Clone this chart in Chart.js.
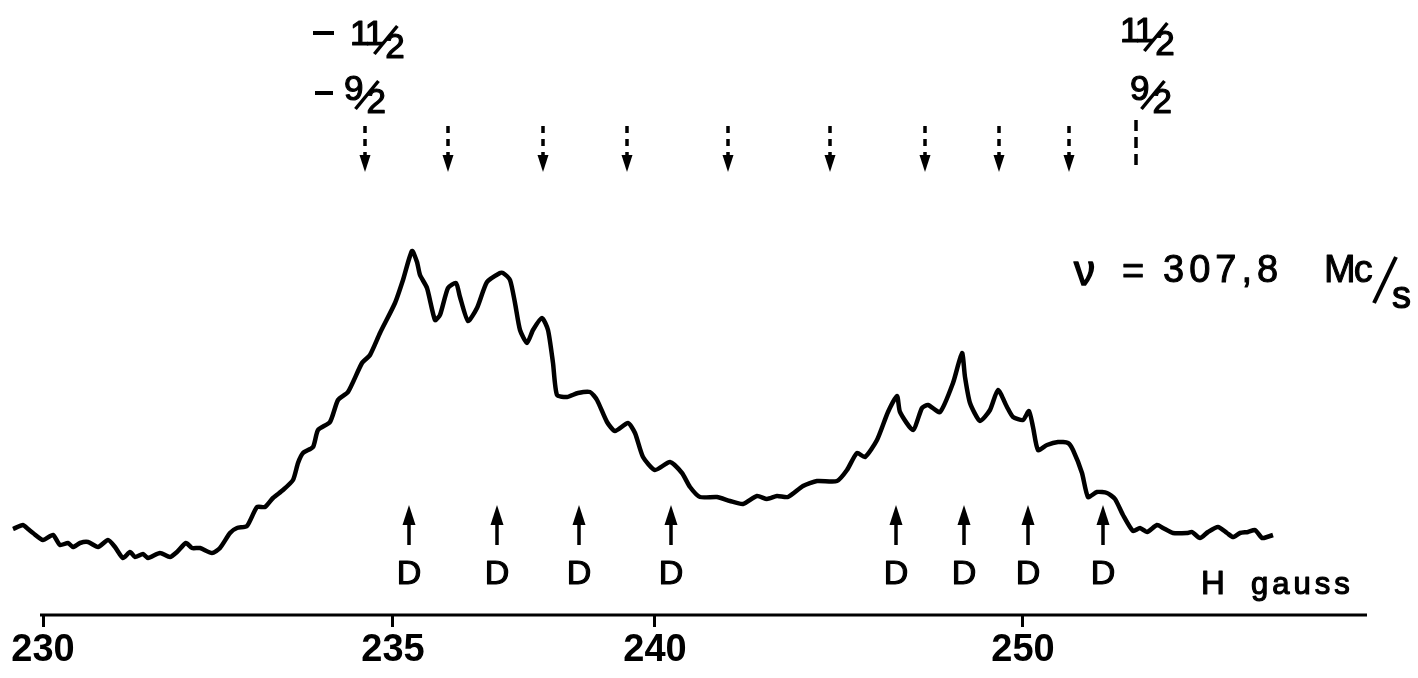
<!DOCTYPE html>
<html><head><meta charset="utf-8">
<script src="https://cdn.jsdelivr.net/npm/chart.js@4.4.1/dist/chart.umd.min.js"></script>
<style>html,body{margin:0;padding:0;background:#fff;overflow:hidden}</style>
</head><body>
<canvas id="c" width="1418" height="678"></canvas>
<script>
// Recorder sweep position (chart units) and signal amplitude (arbitrary units)
const sweepPos = [-2.7,-1.7,-1.2,-0.7,0.3,1.3,2.0,2.8,3.3,4.0,4.8,5.8,6.8,7.5,8.3,9.0,9.5,10.3,10.8,12.0,13.0,13.7,14.6,15.2,16.0,17.2,18.0,19.0,19.7,20.7,21.7,22.5,23.3,24.3,25.3,25.8,26.3,27.3,27.8,29.0,29.8,30.8,32.2,33.0,34.0,35.5,36.3,37.2,37.7,38.0,38.7,39.5,40.0,40.8,41.6,42.0,42.8,43.7,44.7,46.0,46.3,47.0,47.5,48.0,48.7,49.3,50.2,50.8,51.3,51.7,52.7,53.8,55.0,55.7,56.7,57.5,58.8,59.5,60.3,61.5,63.0,64.2,65.0,66.0,67.7,69.0,70.3,71.7,72.7,73.7,74.8,76.3,77.7,79.7,80.7,81.7,82.5,83.7,84.8,85.7,86.0,87.3,88.2,88.8,90.0,91.3,92.2,92.5,93.0,94.0,95.0,95.8,96.7,97.3,98.3,98.9,99.3,99.8,100.7,101.8,102.8,103.3,104.2,104.8,105.7,106.7,107.5,108.3,109.3,110.0,110.7,111.7,112.3,113.3,114.7,115.2,116.0,116.8,117.8,118.7,119.3,120.0,120.8,121.5,122.2,122.7,123.3];
const signal = [8.6,9.0,8.6,8.2,7.5,8.0,7.0,7.2,6.8,7.2,7.3,6.8,7.5,6.8,5.7,6.3,5.8,6.1,5.7,6.2,5.8,6.3,7.2,6.7,6.7,6.2,6.7,8.2,8.7,8.9,10.8,10.8,11.7,12.5,13.5,15.2,16.2,16.8,18.5,19.3,21.5,22.3,25.2,26.0,28.2,31.2,33.5,36.4,35.3,34.0,32.7,29.5,30.0,32.7,33.2,31.8,29.4,30.7,33.3,34.2,34.2,33.5,31.2,28.5,27.2,28.5,29.7,28.5,25.2,22.0,21.8,22.2,22.3,21.5,19.3,18.4,19.2,18.2,15.8,14.5,15.3,14.2,12.8,11.8,11.8,11.4,11.1,11.9,11.6,11.9,11.8,12.9,13.4,13.4,14.5,16.2,15.8,17.5,20.3,21.9,20.3,18.5,20.7,21.0,20.3,23.2,26.2,23.8,21.2,19.4,20.5,22.5,20.8,19.8,19.5,20.4,18.8,16.5,17.0,17.3,17.2,16.5,14.2,11.8,12.3,12.2,11.6,10.0,8.4,8.7,8.3,9.0,8.7,8.2,8.2,8.3,7.7,8.3,8.8,8.2,7.8,8.2,8.3,8.5,7.7,7.8,8.0];

// Field calibration marks (sweep position -> label in gauss)
const tickSweep = [0.3, 35.3, 61.5, 98.3];
const tickLabels = ['230', '235', '240', '250'];
const axisRange = [0, 132.7];

// Lines marked "D" (arrows from below)
const dLineSweep = [36.9, 45.7, 53.9, 63.1, 85.6, 92.4, 98.8, 106.3];
const dLineLabels = ['D','D','D','D','D','D','D','D'];
// Hyperfine component positions (dashed arrows from above), m = -9/2 ... 9/2
const mLineSweep = [32.5, 40.8, 50.3, 58.7, 68.8, 79.0, 88.5, 95.9, 102.9, 109.6];

const FONT = '"Liberation Sans", Arial, sans-serif';

function txt(ctx, s, x, y, w) {
  ctx.lineWidth = w === undefined ? 1.2 : w;
  ctx.lineJoin = 'round';
  ctx.fillText(s, x, y);
  ctx.strokeText(s, x, y);
}

function drawFrac(ctx, num, den, x0, y0) {
  ctx.font = '35px ' + FONT;
  ctx.textAlign = 'left';
  ctx.textBaseline = 'alphabetic';
  ctx.letterSpacing = num.length > 1 ? '-2px' : '0px';
  const nw = ctx.measureText(num).width;
  txt(ctx, num, x0, y0 + 25);
  ctx.letterSpacing = '0px';
  ctx.lineWidth = 3.5;
  ctx.beginPath();
  ctx.moveTo(x0 + nw - 8, y0 + 34);
  ctx.lineTo(x0 + nw + 15, y0 + 6);
  ctx.stroke();
  txt(ctx, den, x0 + nw + 3, y0 + 38);
}

const annot = {
  id: 'annot',
  afterDraw(chart) {
    const ctx = chart.ctx;
    const xs = chart.scales.x, ys = chart.scales.y;
    ctx.save();
    ctx.strokeStyle = '#000';
    ctx.fillStyle = '#000';
    // axis line
    const yb = ys.getPixelForValue(0);
    ctx.lineWidth = 3;
    ctx.beginPath();
    ctx.moveTo(xs.getPixelForValue(axisRange[0]), yb);
    ctx.lineTo(xs.getPixelForValue(axisRange[1]), yb);
    ctx.stroke();

    // D arrows
    const tip = ys.getPixelForValue(11.0), end = ys.getPixelForValue(7.0);
    dLineSweep.forEach((v, i) => {
      const px = Math.round(xs.getPixelForValue(v));
      ctx.lineWidth = 3.5;
      ctx.beginPath(); ctx.moveTo(px, tip + 12); ctx.lineTo(px, end); ctx.stroke();
      ctx.beginPath(); ctx.moveTo(px, tip); ctx.lineTo(px - 6.5, tip + 20); ctx.lineTo(px + 6.5, tip + 20); ctx.closePath(); ctx.fill();
      ctx.font = '34px ' + FONT;
      ctx.textAlign = 'center'; ctx.textBaseline = 'alphabetic';
      txt(ctx, dLineLabels[i], px, 584);
    });

    // dashed arrows from above
    mLineSweep.forEach((v, i) => {
      const px = Math.round(xs.getPixelForValue(v));
      const last = i === mLineSweep.length - 1;
      ctx.lineWidth = 3.5;
      ctx.setLineDash(last ? [11, 6] : [7, 6]);
      ctx.beginPath();
      ctx.moveTo(px, last ? 120 : 126);
      ctx.lineTo(px, last ? 167 : 158);
      ctx.stroke();
      ctx.setLineDash([]);
      if (!last) {
        ctx.beginPath(); ctx.moveTo(px - 5.5, 155); ctx.lineTo(px + 5.5, 155); ctx.lineTo(px, 172); ctx.closePath(); ctx.fill();
      }
    });

    // m labels
    ctx.lineWidth = 4;
    ctx.beginPath(); ctx.moveTo(313, 33); ctx.lineTo(334, 33); ctx.stroke();
    ctx.beginPath(); ctx.moveTo(315, 93); ctx.lineTo(333, 93); ctx.stroke();
    drawFrac(ctx, '11', '2', 350, 20);
    drawFrac(ctx, '9', '2', 344, 75);
    drawFrac(ctx, '11', '2', 1120, 17);
    drawFrac(ctx, '9', '2', 1130, 75);

    // frequency label
    ctx.textAlign = 'left'; ctx.textBaseline = 'alphabetic';
    ctx.font = '42px ' + FONT;
    txt(ctx, 'ν', 1074, 285, 1.5);
    ctx.font = '38px ' + FONT;
    txt(ctx, '=', 1122, 284, 1);
    ctx.letterSpacing = '5px';
    txt(ctx, '307,8', 1163, 282, 1);
    ctx.letterSpacing = '-2px';
    txt(ctx, 'Mc', 1324, 282, 1);
    ctx.letterSpacing = '0px';
    ctx.lineWidth = 4;
    ctx.beginPath(); ctx.moveTo(1374, 303); ctx.lineTo(1396, 257); ctx.stroke();
    ctx.font = '38px ' + FONT;
    txt(ctx, 's', 1392, 308, 1.2);

    // axis title
    ctx.font = '33px ' + FONT;
    txt(ctx, 'H', 1201, 594, 1.2);
    ctx.font = '31px ' + FONT;
    ctx.letterSpacing = '4px';
    txt(ctx, 'gauss', 1251, 594, 1.2);
    ctx.letterSpacing = '0px';
    ctx.restore();
  }
};

new Chart(document.getElementById('c'), {
  type: 'line',
  data: {
    datasets: [{
      data: sweepPos.map((x, i) => ({ x: x, y: signal[i] })),
      borderColor: '#000',
      borderWidth: 4.5,
      pointRadius: 0,
      tension: 0.2,
      fill: false
    }]
  },
  options: {
    responsive: false,
    animation: false,
    devicePixelRatio: 1,
    layout: { padding: { top: 15, left: 0, right: 0, bottom: 0 } },
    plugins: { legend: { display: false }, tooltip: { enabled: false } },
    scales: {
      x: {
        type: 'linear',
        min: -4,
        max: 137.8,
        border: { display: false },
        grid: { drawOnChartArea: false, drawTicks: true, tickLength: 12, color: '#000', lineWidth: 3 },
        ticks: {
          color: '#000',
          font: { family: '"Liberation Sans", Arial, sans-serif', size: 38, weight: 'bold' },
          padding: 1,
          maxRotation: 0,
          autoSkip: false,
          callback: (v, i) => tickLabels[i]
        },
        afterBuildTicks: (s) => { s.ticks = tickSweep.map(v => ({ value: v })); },
        afterFit: (s) => { s.height = 63; }
      },
      y: { display: false, min: 0, max: 60 }
    }
  },
  plugins: [annot]
});
</script>
</body></html>
